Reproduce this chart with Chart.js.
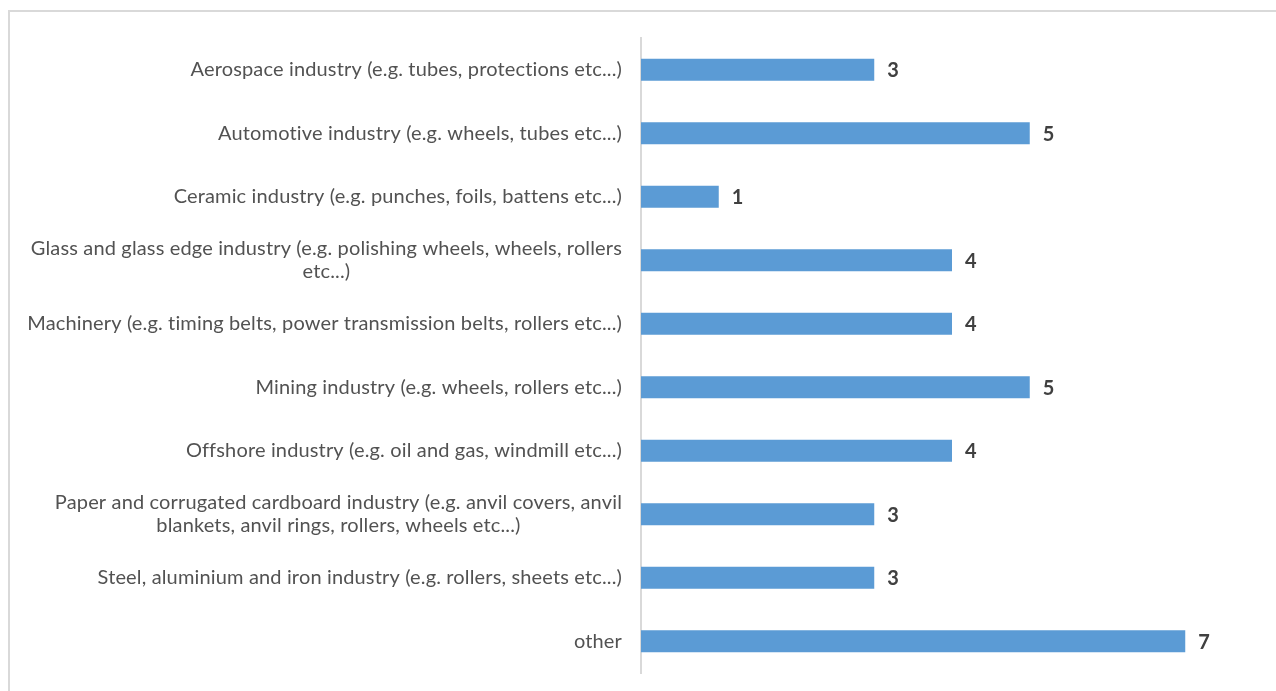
<!DOCTYPE html>
<html>
<head>
<meta charset="utf-8">
<script src="https://cdn.jsdelivr.net/npm/chart.js@4"></script>
<style>
  html, body { margin: 0; padding: 0; background: #fff; overflow: hidden; }
  #wrap { position: relative; width: 1276px; height: 691px; }
  #frame { position: absolute; left: 8px; top: 10px; width: 1300px; height: 700px; border: 2px solid #d9d9d9; box-sizing: border-box; }
  canvas { position: absolute; left: 0; top: 0; }
</style>
</head>
<body>
<div id="wrap">
  <div id="frame"></div>
  <canvas id="chart" width="1276" height="691"></canvas>
</div>
<script>
// categories (multi-line labels are arrays)
const categories = [
  ["Aerospace industry (e.g. tubes, protections etc...)"],
  ["Automotive industry (e.g. wheels, tubes etc...)"],
  ["Ceramic industry (e.g. punches, foils, battens etc...)"],
  ["Glass and glass edge industry (e.g. polishing wheels, wheels, rollers", "etc...)"],
  ["Machinery (e.g. timing belts, power transmission belts, rollers etc...)"],
  ["Mining industry (e.g. wheels, rollers etc...)"],
  ["Offshore industry (e.g. oil and gas, windmill etc...)"],
  ["Paper and corrugated cardboard industry (e.g. anvil covers, anvil", "blankets, anvil rings, rollers, wheels etc...)"],
  ["Steel, aluminium and iron industry (e.g. rollers, sheets etc...)"],
  ["other"]
];
const counts = [3, 5, 1, 4, 4, 5, 4, 3, 3, 7];

const labelFont = "20px Lato";
const valueFont = "bold 20px Lato";

//draw category labels (right aligned, wrapped lines centered like excel)
const categoryLabels = {
  id: "categoryLabels",
  afterDraw(chart) {
    const ctx = chart.ctx;
    const yScale = chart.scales.y;
    const right = chart.chartArea.left - 19;
    ctx.save();
    ctx.font = labelFont;
    ctx.letterSpacing = "0.15px";
    ctx.fillStyle = "#525252";
    ctx.textBaseline = "middle";
    categories.forEach((lines, i) => {
      const y = yScale.getPixelForTick(i);
      const lineH = 23;
      const widths = lines.map((l) => ctx.measureText(l).width);
      const maxW = Math.max(...widths);
      const center = right - maxW / 2;
      lines.forEach((line, j) => {
        const ly = y + (j - (lines.length - 1) / 2) * lineH;
        ctx.textAlign = "center";
        ctx.fillText(line, center, ly);
      });
    });
    ctx.restore();
  }
};

//value labels at the end of each bar
const valueLabels = {
  id: "valueLabels",
  afterDatasetsDraw(chart) {
    const ctx = chart.ctx;
    const meta = chart.getDatasetMeta(0);
    ctx.save();
    ctx.font = valueFont;
    ctx.fillStyle = "#404040";
    ctx.textAlign = "left";
    ctx.textBaseline = "middle";
    meta.data.forEach((bar, i) => {
      ctx.fillText(String(counts[i]), bar.x + 13, bar.y + 1);
    });
    ctx.restore();
  }
};

const ctx = document.getElementById("chart").getContext("2d");
new Chart(ctx, {
  type: "bar",
  data: {
    labels: categories.map((c) => c.join(" ")),
    datasets: [
      {
        data: counts,
        backgroundColor: "#5b9bd5",
        borderWidth: 0,
        barPercentage: 0.35,
        categoryPercentage: 1,
      },
    ],
  },
  options: {
    indexAxis: "y",
    responsive: false,
    animation: false,
    layout: { padding: { top: 38, bottom: 18, right: 13, left: 0 } },
    plugins: {
      legend: { display: false },
      tooltip: { enabled: false },
    },
    scales: {
      x: {
        display: false,
        min: 0,
        max: 8,
      },
      y: {
        grid: { display: false },
        border: { display: true, color: "#d9d9d9", width: 2 },
        ticks: { display: false },
        afterFit: (scale) => { scale.width = 641; },
      },
    },
  },
  plugins: [categoryLabels, valueLabels],
});
</script>
</body>
</html>
